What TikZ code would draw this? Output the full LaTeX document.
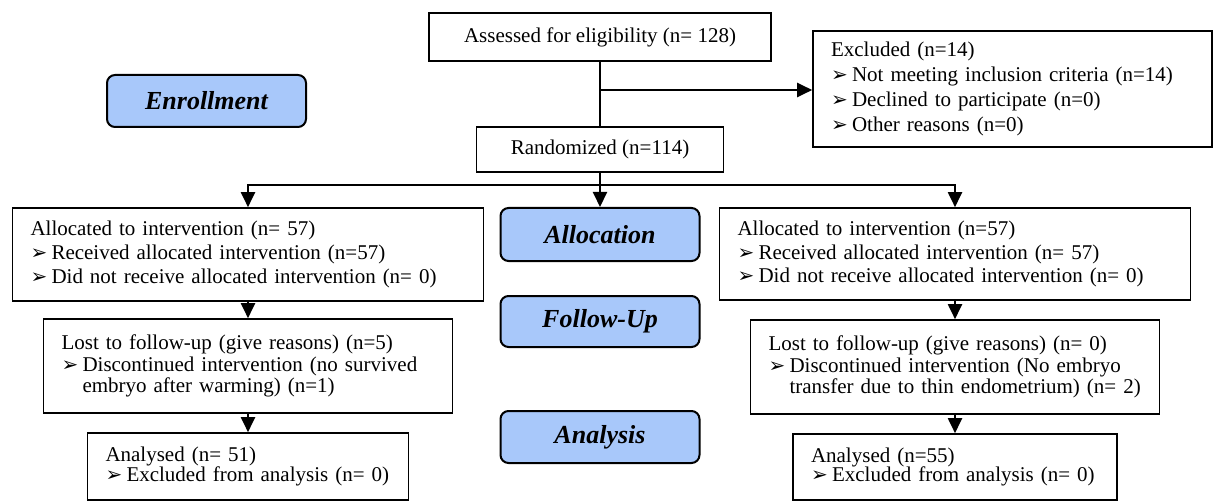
\documentclass[tikz,border=0pt]{standalone}
\usepackage{fontspec}
\setmainfont{Liberation Serif}
\newfontfamily\symfont{DejaVu Sans}
\usetikzlibrary{arrows.meta}
\definecolor{phaseblue}{RGB}{168,200,250}
\newcommand{\bul}{\makebox[10.5pt][l]{\symfont\fontsize{10}{8}\selectfont ➢}}
\newcommand{\itm}[1]{\par\noindent\hangindent=10.5pt\hangafter=1\bul#1\par}

\begin{document}
\begin{tikzpicture}[x=0.5pt, y=-0.5pt,
    box/.style={draw, line width=0.8pt, inner xsep=9pt, inner ysep=2pt,
                align=left, font=\fontsize{10.5}{12}\selectfont},
    single/.style={draw, line width=0.8pt, align=center,
                   font=\fontsize{10.5}{12}\selectfont},
    phase/.style={draw, line width=1pt, rounded corners=4pt, fill=phaseblue,
                  minimum width=99.5pt, minimum height=26pt,
                  font=\fontsize{13}{15}\selectfont\bfseries\itshape},
    line/.style={line width=1pt},
    arr/.style={line width=1pt, -{Triangle[width=7pt,length=7.5pt]}}
  ]
  \useasboundingbox (0,0) rectangle (1214,502);

  % --- Enrollment ---
  \node[single, minimum width=171pt, minimum height=24pt] (assess) at (600,37)
    {Assessed for eligibility (n= 128)};
  \node[box, text width=181.5pt, minimum height=58pt,
        font=\fontsize{10.5}{12.5}\selectfont] (excl) at (1012.5,89)
    {\noindent Excluded (n=14)
     \itm{Not meeting inclusion criteria (n=14)}
     \itm{Declined to participate (n=0)}
     \itm{Other reasons (n=0)}};
  \node[single, minimum width=123.5pt, minimum height=22.5pt] (rand) at (600,149.5)
    {Randomized (n=114)};
  \node[phase] (enroll) at (206.5,101) {Enrollment};

  % --- phase labels ---
  \node[phase, minimum height=26.5pt] (alloc) at (600,234.5) {Allocation};
  \node[phase, minimum height=25.5pt] (follow) at (600,321.5) {Follow-Up};
  \node[phase] (analysis) at (600,437) {Analysis};

  % --- Allocation ---
  \node[box, text width=217.5pt, minimum height=46.5pt,
        font=\fontsize{10.5}{11.8}\selectfont] (lalloc) at (248,254.5)
    {\noindent Allocated to intervention (n= 57)
     \itm{Received allocated intervention (n=57)}
     \itm{Did not receive allocated intervention (n= 0)}};
  \node[box, text width=217.5pt, minimum height=46pt,
        font=\fontsize{10.5}{11.8}\selectfont] (ralloc) at (955,254)
    {\noindent Allocated to intervention (n=57)
     \itm{Received allocated intervention (n= 57)}
     \itm{Did not receive allocated intervention (n= 0)}};

  % --- Follow-Up ---
  \node[box, text width=186.5pt, minimum height=47pt,
        font=\fontsize{10.5}{10.8}\selectfont] (llost) at (248,366)
    {\noindent Lost to follow-up (give reasons) (n=5)
     \itm{Discontinued intervention (no survived\newline embryo after warming) (n=1)}};
  \node[box, text width=186.5pt, minimum height=47pt,
        font=\fontsize{10.5}{10.8}\selectfont] (rlost) at (955,367)
    {\noindent Lost to follow-up (give reasons) (n= 0)
     \itm{Discontinued intervention (No embryo\newline transfer due to thin endometrium) (n= 2)}};

  % --- Analysis ---
  \node[box, text width=142.5pt, minimum height=33.5pt,
        font=\fontsize{10.5}{9.6}\selectfont] (lana) at (248,466.5)
    {\lineskiplimit=-10pt\noindent Analysed (n= 51)
     \itm{Excluded from analysis (n= 0)}};
  \node[box, text width=144pt, minimum height=33pt,
        font=\fontsize{10.5}{9.6}\selectfont] (rana) at (955,467)
    {\lineskiplimit=-10pt\noindent Analysed (n=55)
     \itm{Excluded from analysis (n= 0)}};

  % --- connectors ---
  \coordinate (exsplit) at (600,90);
  \coordinate (fork) at (600,185);
  \draw[line] (assess.south) -- (rand.north);
  \draw[arr] (exsplit) -- (exsplit -| excl.west);
  \draw[arr] (rand.south) -- (alloc.north);
  \draw[arr] (fork) -| (lalloc.north);
  \draw[arr] (fork) -| (ralloc.north);
  \draw[arr] (lalloc.south) -- (llost.north);
  \draw[arr] (ralloc.south) -- (rlost.north);
  \draw[arr] (llost.south) -- (lana.north);
  \draw[arr] (rlost.south) -- (rana.north);

\end{tikzpicture}
\end{document}
